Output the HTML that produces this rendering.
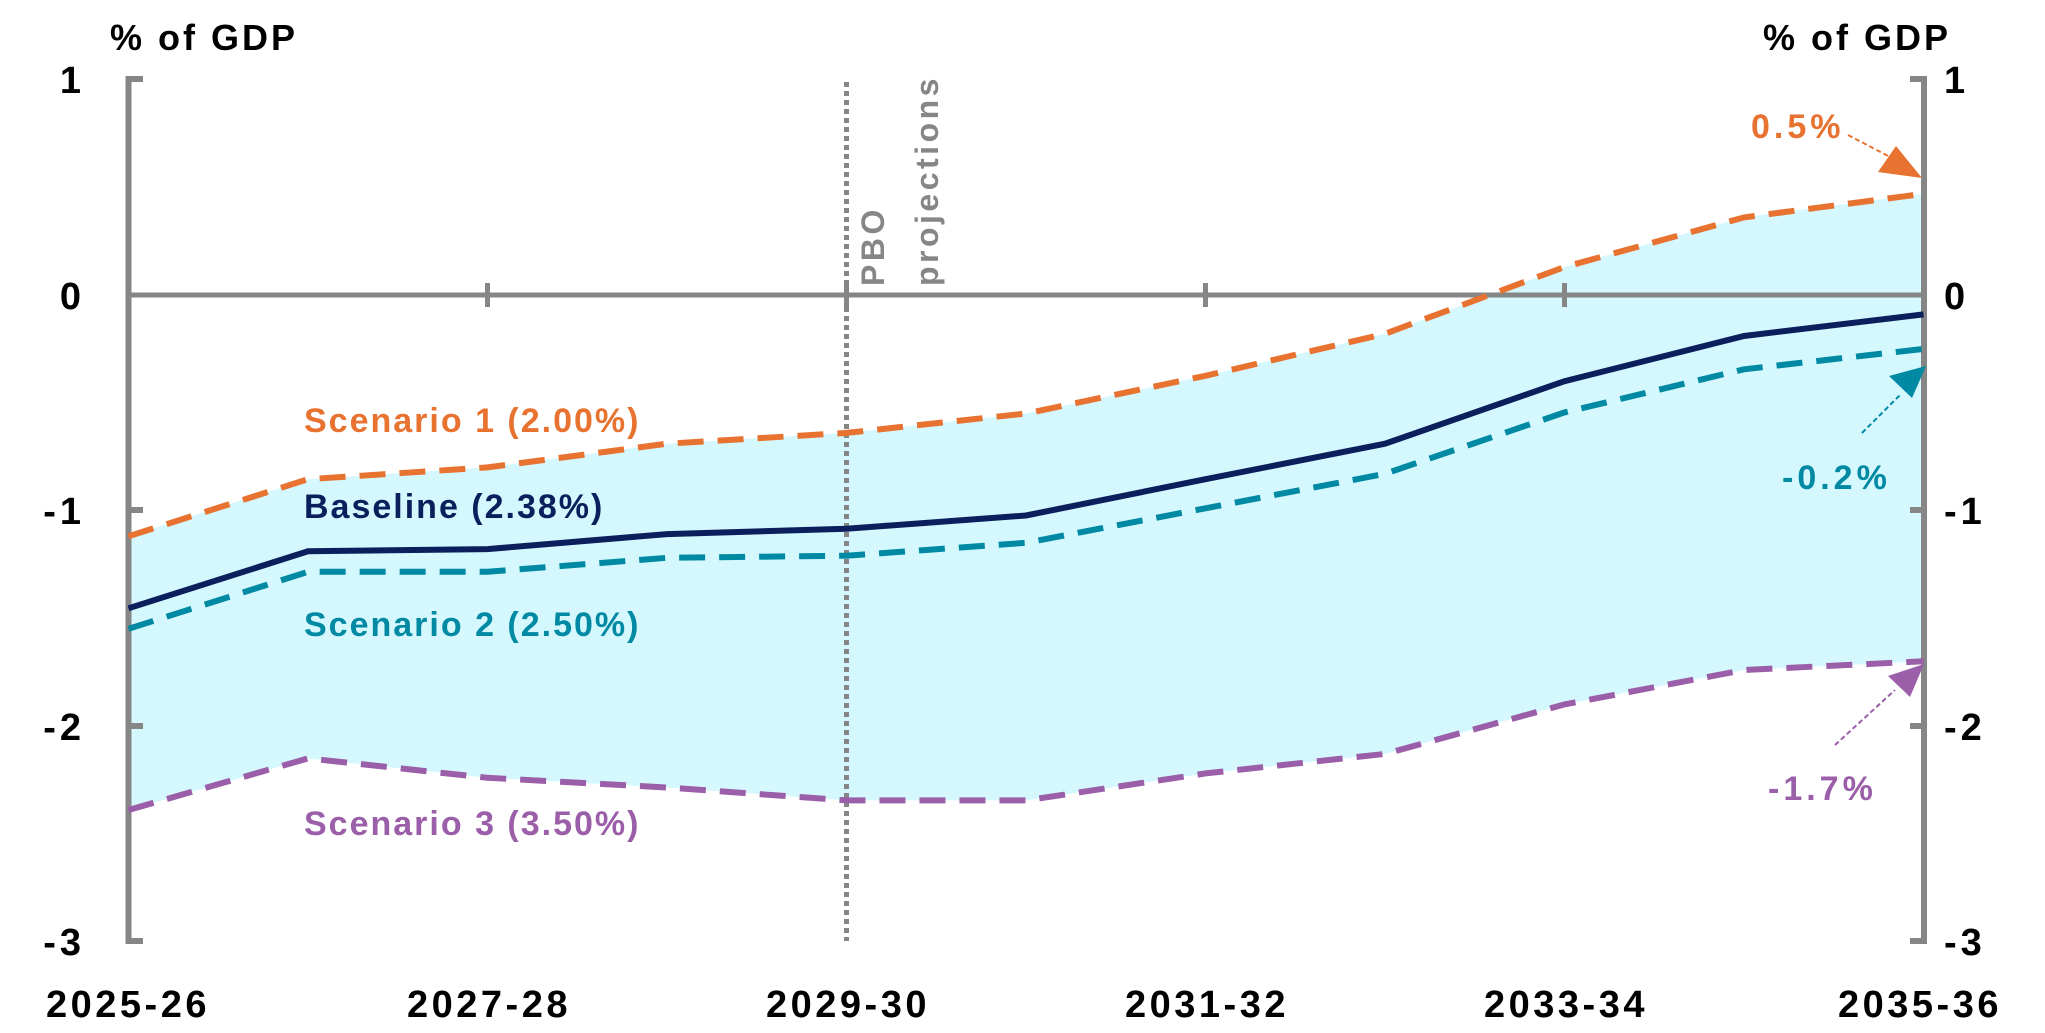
<!DOCTYPE html>
<html><head><meta charset="utf-8"><style>
body{margin:0;background:#fff}
svg{display:block}
text{font-family:"Liberation Sans",sans-serif;font-weight:bold}
</style></head><body>
<svg width="2045" height="1033" viewBox="0 0 2045 1033" xmlns="http://www.w3.org/2000/svg">
<polygon fill="#d4f8fe" points="128.5,536.3 308,479.2 487.5,467.4 667,443.7 846.5,432.9 1026,413.5 1205.5,375.8 1385,333.8 1564.5,267.0 1744,217.4 1923.5,193.8 1923.5,661.3 1744,670.0 1564.5,704.4 1385,753.9 1205.5,773.4 1026,800.4 846.5,800.4 667,787.5 487.5,777.8 308,758.4 128.5,810.0"/>
<line x1="128.5" y1="295" x2="1924" y2="295" stroke="#868686" stroke-width="5"/>
<g stroke="#868686" stroke-width="5">
<line x1="487.5" y1="283" x2="487.5" y2="307"/><line x1="846.5" y1="283" x2="846.5" y2="307"/><line x1="1205.5" y1="283" x2="1205.5" y2="307"/><line x1="1564.5" y1="283" x2="1564.5" y2="307"/>
</g>
<line x1="846.5" y1="82" x2="846.5" y2="941" stroke="#868686" stroke-width="5" stroke-dasharray="5,4"/>
<g fill="none" stroke="#868686" stroke-width="6">
<path d="M143,79 H128.5 V941 H143"/><line x1="128.5" y1="510" x2="143" y2="510"/><line x1="128.5" y1="726" x2="143" y2="726"/>
<path d="M1910,79 H1924 V941 H1910"/><line x1="1910" y1="510" x2="1924" y2="510"/><line x1="1910" y1="726" x2="1924" y2="726"/>
</g>
<polyline fill="none" stroke="#e87230" stroke-width="6" stroke-dasharray="26,14" points="128.5,536.3 308,479.2 487.5,467.4 667,443.7 846.5,432.9 1026,413.5 1205.5,375.8 1385,333.8 1564.5,267.0 1744,217.4 1923.5,193.8"/>
<polyline fill="none" stroke="#0089a3" stroke-width="6" stroke-dasharray="26,14" points="128.5,628.8 308,571.8 487.5,571.8 667,557.8 846.5,555.7 1026,542.8 1205.5,508.3 1385,473.8 1564.5,412.4 1744,369.3 1923.5,348.9"/>
<polyline fill="none" stroke="#9b5ea8" stroke-width="6" stroke-dasharray="26,14" points="128.5,810.0 308,758.4 487.5,777.8 667,787.5 846.5,800.4 1026,800.4 1205.5,773.4 1385,753.9 1564.5,704.4 1744,670.0 1923.5,661.3"/>
<polyline fill="none" stroke="#0a1f5c" stroke-width="6" points="128.5,608.3 308,551.3 487.5,549.1 667,534.1 846.5,528.7 1026,515.5 1205.5,479.2 1385,443.7 1564.5,381.2 1744,336.0 1923.5,314.4"/>
<g stroke-width="2" stroke-dasharray="5,3">
<line x1="1848" y1="135" x2="1890" y2="157" stroke="#e87230"/>
<line x1="1862" y1="433" x2="1900" y2="395" stroke="#0089a3"/>
<line x1="1835" y1="745" x2="1895" y2="690" stroke="#9b5ea8"/>
</g>
<polygon points="1922,178 1878,172 1896,146" fill="#e87230"/>
<polygon points="1926,366 1912,398 1889,376" fill="#0089a3"/>
<polygon points="1924,664 1910,697 1888,676" fill="#9b5ea8"/>
<g font-size="36" fill="#000" letter-spacing="3">
<text x="110" y="50">% of GDP</text>
<text x="1951" y="50" text-anchor="end">% of GDP</text>
</g>
<g font-size="38" fill="#000" text-anchor="end" letter-spacing="4">
<text x="85" y="93">1</text><text x="85" y="309">0</text><text x="85" y="524">-1</text><text x="85" y="740">-2</text><text x="85" y="955">-3</text>
</g>
<g font-size="38" fill="#000" letter-spacing="4">
<text x="1944" y="93">1</text><text x="1944" y="309">0</text><text x="1944" y="524">-1</text><text x="1944" y="740">-2</text><text x="1944" y="955">-3</text>
</g>
<g font-size="38" fill="#000" text-anchor="middle" letter-spacing="3.5">
<text x="128" y="1017">2025-26</text><text x="489" y="1017">2027-28</text><text x="848" y="1017">2029-30</text><text x="1207" y="1017">2031-32</text><text x="1566" y="1017">2033-34</text><text x="1920" y="1017">2035-36</text>
</g>
<g font-size="34" letter-spacing="2">
<text x="304" y="432" fill="#e87230">Scenario 1 (2.00%)</text>
<text x="304" y="518" fill="#0a1f5c">Baseline (2.38%)</text>
<text x="304" y="636" fill="#0089a3">Scenario 2 (2.50%)</text>
<text x="304" y="835" fill="#9b5ea8">Scenario 3 (3.50%)</text>
</g>
<g font-size="34" letter-spacing="4">
<text x="1751" y="138" fill="#e87230">0.5%</text>
<text x="1782" y="489" fill="#0089a3">-0.2%</text>
<text x="1768" y="800" fill="#9b5ea8">-1.7%</text>
</g>
<g font-size="32" fill="#868686" letter-spacing="3.5">
<text transform="translate(884,286) rotate(-90)">PBO</text>
<text transform="translate(938,286) rotate(-90)">projections</text>
</g>
</svg>
</body></html>
